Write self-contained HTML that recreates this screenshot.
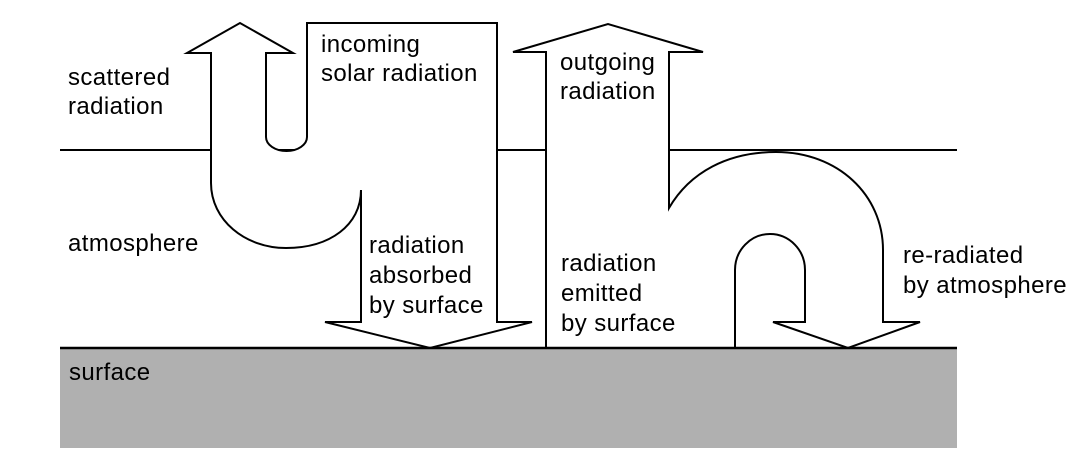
<!DOCTYPE html>
<html><head><style>
html,body{margin:0;padding:0;background:#fff;}
svg{display:block;}
text{font-family:"Liberation Sans",Arial,sans-serif;font-size:24px;letter-spacing:0.4px;fill:#000;}
</style></head><body>
<svg width="1077" height="471" viewBox="0 0 1077 471">
<rect x="60" y="348" width="897" height="100" fill="#b0b0b0"/>
<line x1="60" y1="150" x2="957" y2="150" stroke="#000" stroke-width="2"/>
<path d="M211,183 L211,53 L187,53 L240,23 L293,53 L266,53 L266,137 A20.5,14 0 0 0 307,137 L307,23 L497,23 L497,322 L532,322 L430,348 L325,322 L361,322 L361,190 C361,225 330,248 286,248 C245,248 211,220 211,183 Z" fill="#fff" stroke="#000" stroke-width="2" stroke-linejoin="miter"/>
<path d="M546,348 L546,52 L513,52 L608,24 L703,52 L669,52 L669,208 C690,172 728,152 776,152 C838,152 883,195 883,250 L883,322 L920,322 L848,348 L773,322 L805,322 L805,270 A35,36 0 0 0 735,270 L735,348 Z" fill="#fff" stroke="#000" stroke-width="2"/>
<line x1="60" y1="348" x2="957" y2="348" stroke="#000" stroke-width="2.5"/>
<text x="68" y="85">scattered</text>
<text x="68" y="114">radiation</text>
<text x="321" y="52">incoming</text>
<text x="321" y="81">solar radiation</text>
<text x="560" y="70">outgoing</text>
<text x="560" y="99">radiation</text>
<text x="68" y="251">atmosphere</text>
<text x="369" y="253">radiation</text>
<text x="369" y="283">absorbed</text>
<text x="369" y="313">by surface</text>
<text x="561" y="271">radiation</text>
<text x="561" y="301">emitted</text>
<text x="561" y="331">by surface</text>
<text x="903" y="263">re-radiated</text>
<text x="903" y="293">by atmosphere</text>
<text x="69" y="380">surface</text>
</svg>
</body></html>
